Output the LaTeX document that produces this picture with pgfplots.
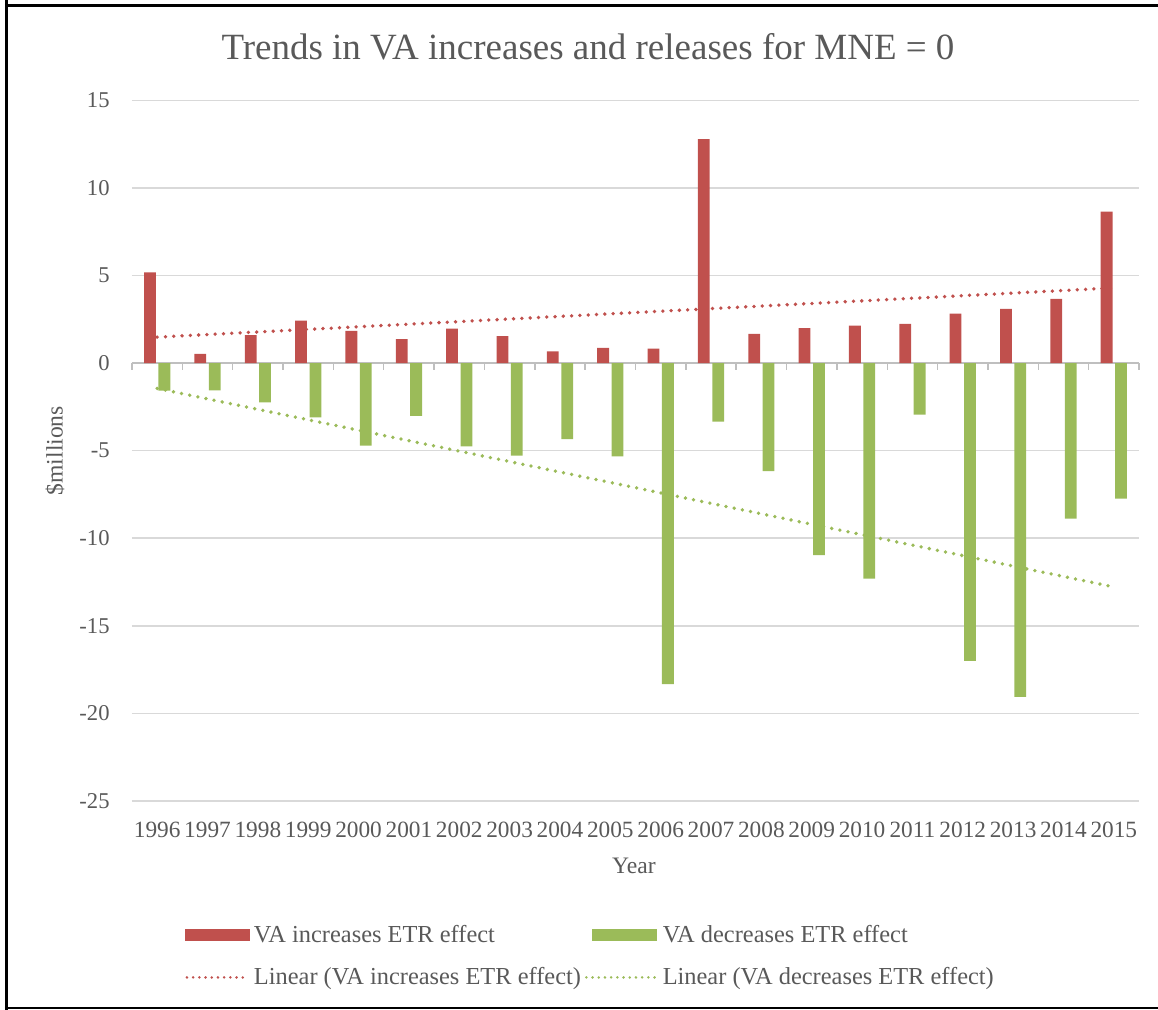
\documentclass[border=0pt]{standalone}
\usepackage{pgfplots}
\usepackage{pgfplotstable}
\pgfplotsset{compat=1.18}
\usepackage{fontspec}
\setmainfont{Liberation Serif}

\definecolor{incred}{HTML}{C0504D}
\definecolor{decgreen}{HTML}{9BBB59}
\definecolor{txtgray}{HTML}{595959}
\definecolor{gridgray}{HTML}{D9D9D9}
\definecolor{axisgray}{HTML}{BFBFBF}

\tikzset{
  trenddots/.style={line width=1.9pt, line cap=round, dash pattern=on 0pt off 4.15pt},
  legenddots/.style={line width=1.4pt, line cap=round, dash pattern=on 0pt off 3.1pt},
}

% VA increases / decreases ETR effect, $millions, 1996 = 0 ... 2015 = 19
\pgfplotstableread{
idx inc dec
0 5.18 -1.58
1 0.53 -1.56
2 1.60 -2.25
3 2.42 -3.10
4 1.83 -4.72
5 1.37 -3.02
6 1.97 -4.76
7 1.54 -5.29
8 0.66 -4.34
9 0.86 -5.33
10 0.82 -18.33
11 12.78 -3.35
12 1.67 -6.17
13 2.00 -10.97
14 2.13 -12.31
15 2.23 -2.94
16 2.82 -17.00
17 3.09 -19.05
18 3.67 -8.88
19 8.65 -7.74
}\vadata

% end points of the linear trend lines
\pgfplotstableread{
idx inc dec
0 1.48 -1.45
19 4.29 -12.78
}\trenddata

\begin{document}
\begin{tikzpicture}
\path[use as bounding box] (-66pt,-104.5pt) rectangle (513pt,400.5pt);

\begin{axis}[
  scale only axis,
  width=503.5pt, height=350.35pt,
  xmin=-0.5, xmax=19.5, ymin=-25, ymax=15,
  ytick={-25,-20,-15,-10,-5,0,5,10,15},
  yticklabels={-25,-20,-15,-10,-5,0,5,10,15},
  xtick={0,1,2,3,4,5,6,7,8,9,10,11,12,13,14,15,16,17,18,19},
  xticklabels={1996,1997,1998,1999,2000,2001,2002,2003,2004,2005,2006,2007,2008,2009,2010,2011,2012,2013,2014,2015},
  major tick length=0pt,
  axis line style={draw=none},
  ymajorgrids,
  grid style={gridgray, line width=0.75pt},
  tick label style={text=txtgray},
  yticklabel style={inner sep=0pt, anchor=east, xshift=-11pt, font=\fontsize{11.3}{13}\selectfont},
  xticklabel style={inner sep=0pt, anchor=north, yshift=-10.3pt, font=\fontsize{11.65}{13}\selectfont},
  xlabel={Year},
  ylabel={\$millions},
  label style={text=txtgray, font=\fontsize{11.8}{14}\selectfont},
  xlabel style={at={(axis description cs:0.4985,-0.0928)}, anchor=center, inner sep=0pt},
  ylabel style={at={(axis description cs:-0.0765,0.5)}, anchor=center, inner sep=0pt},
  legend columns=2,
  legend cell align=left,
  legend style={
    at={(axis description cs:0.0526,-0.1715)}, anchor=north west,
    draw=none, fill=none, inner sep=0pt, outer sep=0pt,
    font=\fontsize{12.2}{14}\selectfont, text=txtgray,
    row sep=7pt,
    nodes={inner sep=2pt},
    /tikz/every even column/.append style={column sep=0pt},
  },
  clip=false,
]

% horizontal axis at zero with category tick marks
\draw[axisgray, line width=0.75pt] (axis cs:-0.5,0) -- (axis cs:19.5,0);
\pgfplotsinvokeforeach{-0.5,0.5,...,19.5}{
  \draw[axisgray, line width=0.75pt] (axis cs:#1,0) -- ++(0pt,-3.3pt);
}

\addplot[ybar, bar width=5.9pt, bar shift=-3.6pt, fill=incred, draw=none,
  legend image code/.code={\fill[incred] (0pt,-3pt) rectangle (32.5pt,3pt);}]
  table[x=idx, y=inc] {\vadata};
\addlegendentry{VA increases ETR effect}

\addplot[ybar, bar width=5.9pt, bar shift=3.6pt, fill=decgreen, draw=none,
  legend image code/.code={\fill[decgreen] (0pt,-3pt) rectangle (32.5pt,3pt);}]
  table[x=idx, y=dec] {\vadata};
\addlegendentry{VA decreases ETR effect}

\addplot[incred, trenddots, mark=none,
  legend image code/.code={\draw[incred, legenddots] (1pt,0pt) -- (29.5pt,0pt);}]
  table[x=idx, y=inc] {\trenddata};
\addlegendentry{Linear (VA increases ETR effect)}

\addplot[decgreen, trenddots, mark=none,
  legend image code/.code={\draw[decgreen, legenddots] (-3pt,0pt) -- (32.5pt,0pt);}]
  table[x=idx, y=dec] {\trenddata};
\addlegendentry{Linear (VA decreases ETR effect)}

\end{axis}

% chart title
\node[text=txtgray, font=\fontsize{18.5}{22}\selectfont, inner sep=0pt] at (228pt,377pt)
  {Trends in VA increases and releases for MNE = 0};

% outer frame
\draw[black, line width=1.65pt] (-62.65pt,400.5pt) -- (-62.65pt,-104.5pt);
\draw[black, line width=1.2pt] (-63.5pt,397.75pt) -- (513pt,397.75pt);
\draw[black, line width=1.2pt] (-63.5pt,-103.5pt) -- (513pt,-103.5pt);
\end{tikzpicture}
\end{document}
